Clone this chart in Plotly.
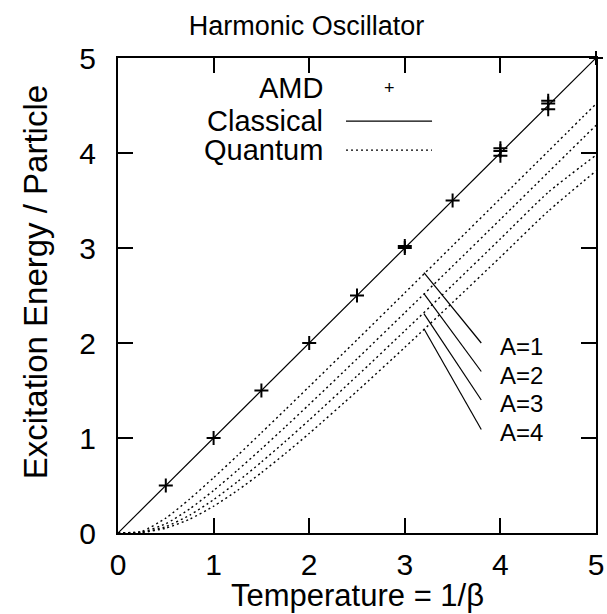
import plotly.graph_objects as go

# ---------------- data ----------------
temperature = [0.0, 0.25, 0.5, 0.75, 1.0, 1.25, 1.5, 1.75, 2.0, 2.5, 3.0, 3.5, 4.0, 4.5, 5.0]
quantum_A1 = [0.0, 0.0187, 0.1565, 0.3580, 0.5820, 0.8160, 1.0552, 1.2974, 1.5415, 2.0333, 2.5277, 3.0238, 3.5208, 4.0187, 4.5167]
quantum_A2 = [0.0, 0.0097, 0.0969, 0.2536, 0.4475, 0.6610, 0.8855, 1.1169, 1.3527, 1.8326, 2.3190, 2.8093, 3.3019, 3.7963, 4.2916]
quantum_A3 = [0.0, 0.0065, 0.0671, 0.1878, 0.3507, 0.5404, 0.7469, 0.9643, 1.1890, 1.6527, 2.1280, 2.6100, 3.0965, 3.5860, 3.9774]
quantum_A4 = [0.0, 0.0048, 0.0507, 0.1457, 0.2817, 0.4478, 0.6348, 0.8364, 1.0483, 1.4925, 1.9539, 2.4258, 2.9044, 3.3876, 3.8115]

classical_x = [0.0, 5.0]
classical_y = [0.0, 5.0]

amd_x = [0.5, 1.0, 1.5, 2.0, 2.5, 3.0, 3.0, 3.5, 4.0, 4.0, 4.0, 4.5, 4.5, 4.5, 5.0]
amd_y = [0.5, 1.0, 1.5, 2.0, 2.5, 3.0, 3.02, 3.5, 3.97, 4.02, 4.05, 4.46, 4.52, 4.55, 5.0]

curve_labels = ["A=1", "A=2", "A=3", "A=4"]
label_anchor_x = [3.2, 3.2, 3.2, 3.2]
label_anchor_y = [2.74, 2.52, 2.31, 2.15]
label_end_x = [3.8, 3.8, 3.8, 3.8]
label_end_y = [2.0, 1.70, 1.40, 1.09]
label_text_x = [3.98, 3.98, 3.98, 3.98]
label_text_y = [1.96, 1.66, 1.36, 1.06]

x_ticks = [0, 1, 2, 3, 4, 5]
y_ticks = [0, 1, 2, 3, 4, 5]

FONT = "Liberation Sans, Arial, sans-serif"

fig = go.Figure()

quantum = [quantum_A1, quantum_A2, quantum_A3, quantum_A4]
for q in quantum:
    fig.add_trace(go.Scatter(
        x=temperature, y=q, mode="lines",
        line=dict(color="black", width=1.4, dash="2px,3px", shape="spline", smoothing=0.6),
        showlegend=False, hoverinfo="skip"))

fig.add_trace(go.Scatter(
    x=classical_x, y=classical_y, mode="lines",
    line=dict(color="black", width=1.2), showlegend=False))

fig.add_trace(go.Scatter(
    x=amd_x, y=amd_y, mode="markers",
    marker=dict(symbol="cross-thin", size=10, line=dict(color="black", width=2)),
    showlegend=False, cliponaxis=False))

# leader lines and labels for the quantum curves
for i, lab in enumerate(curve_labels):
    fig.add_shape(type="line", xref="x", yref="y",
                  x0=label_anchor_x[i], y0=label_anchor_y[i],
                  x1=label_end_x[i], y1=label_end_y[i],
                  line=dict(color="black", width=1.2))
    fig.add_annotation(x=label_text_x[i], y=label_text_y[i], xref="x", yref="y",
                       text=lab, showarrow=False, xanchor="left", yanchor="middle",
                       font=dict(family=FONT, size=24, color="black"))

# manual legend (text on the left, sample on the right)
legend_names = ["AMD", "Classical", "Quantum"]
legend_y = [0.937, 0.867, 0.806]
for name, ly in zip(legend_names, legend_y):
    fig.add_annotation(x=0.433, y=ly, xref="paper", yref="paper", text=name,
                       showarrow=False, xanchor="right", yanchor="middle",
                       font=dict(family=FONT, size=29, color="black"))
fig.add_annotation(x=0.567, y=legend_y[0], xref="paper", yref="paper", text="+",
                   showarrow=False, xanchor="center", yanchor="middle",
                   font=dict(family=FONT, size=18, color="black"))
fig.add_shape(type="line", xref="paper", yref="paper", x0=0.477, x1=0.657,
              y0=legend_y[1], y1=legend_y[1], line=dict(color="black", width=1.2))
fig.add_shape(type="line", xref="paper", yref="paper", x0=0.477, x1=0.657,
              y0=legend_y[2], y1=legend_y[2], line=dict(color="black", width=1.2, dash="2px,3px"))

# axis titles as annotations for exact placement
fig.add_annotation(x=0.5, y=-0.1326, xref="paper", yref="paper", text="Temperature = 1/β",
                   showarrow=False, xanchor="center", yanchor="middle",
                   font=dict(family=FONT, size=31, color="black"))
fig.add_annotation(x=-0.1736, y=0.528, xref="paper", yref="paper", text="Excitation Energy / Particle",
                   textangle=-90, showarrow=False, xanchor="center", yanchor="middle",
                   font=dict(family=FONT, size=33, color="black"))

axis_common = dict(
    range=[0, 5], showgrid=False, zeroline=False, automargin=False,
    showline=True, linecolor="black", linewidth=2, mirror="ticks",
    ticks="inside", ticklen=15, tickwidth=2, tickcolor="black",
    tickfont=dict(family=FONT, size=30, color="black"),
)

fig.update_layout(
    width=607, height=614,
    margin=dict(l=118, r=11, t=58, b=81),
    paper_bgcolor="white", plot_bgcolor="white",
    title=dict(text="Harmonic Oscillator", x=0.505, xanchor="center", xref="container",
               y=0.958, yanchor="middle", yref="container",
               font=dict(family=FONT, size=27, color="black")),
    xaxis=dict(**axis_common, tickvals=x_ticks, ticklabelstandoff=4),
    yaxis=dict(**axis_common, tickvals=y_ticks, ticklabelstandoff=14),
    showlegend=False,
)

# remove the default page margin so the 607x614 figure fills the window exactly
fig.write_html(
    "out.html",
    config={"displayModeBar": False},
    post_script="document.body.style.margin='0';document.body.style.overflow='hidden';",
)
